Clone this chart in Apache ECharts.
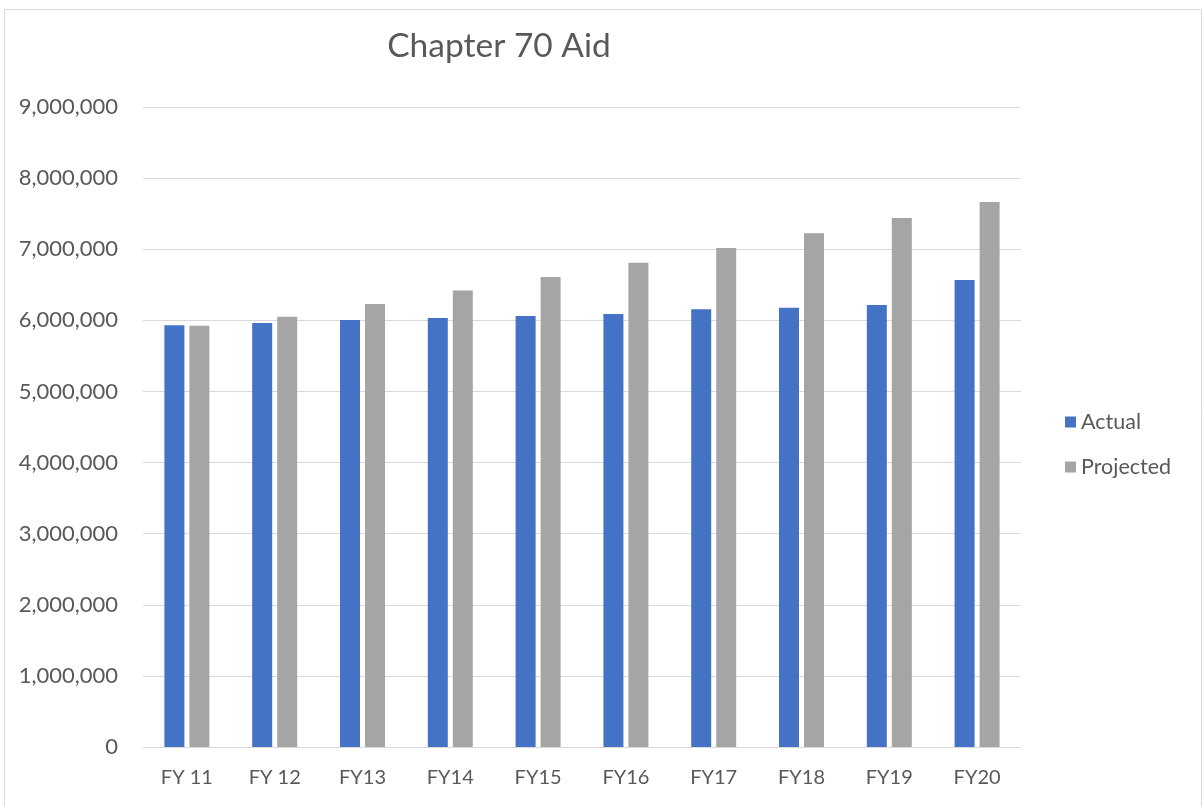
<!DOCTYPE html>
<html lang="en">
<head>
  <meta charset="UTF-8">
  <script src="https://cdn.jsdelivr.net/npm/echarts@6/dist/echarts.min.js"></script>
  <title>Chapter 70 Aid</title>
  <style>
    * { margin: 0; padding: 0; }
    html, body { width: 100%; height: 100%; background: #fff; }
    #chart { width: 1204px; height: 806px; }
  </style>
</head>
<body>
<div id="chart"></div>
<script>
  // fiscal years
  var categories = ['FY 11', 'FY 12', 'FY13', 'FY14', 'FY15', 'FY16', 'FY17', 'FY18', 'FY19', 'FY20'];
  // values
  var actual = [5930000, 5962000, 6005000, 6033000, 6060000, 6089000, 6155000, 6178000, 6216000, 6567000];
  var projected = [5925000, 6051000, 6230000, 6420000, 6610000, 6810000, 7017000, 7224000, 7439000, 7664000];

  var font = 'Lato, "Open Sans", sans-serif';
  var textColor = '#595959';

  var chart = echarts.init(document.getElementById('chart'));
  var option = {
    animation: false,
    textStyle: { fontFamily: font },
    title: {
      text: 'Chapter 70 Aid',
      left: 494,
      top: 24,
      textAlign: 'center',
      textStyle: { fontFamily: font, fontSize: 33.5, fontWeight: 'normal', color: textColor }
    },
    graphic: [{
      type: 'rect',
      shape: { x: 4.5, y: 9.5, width: 1197, height: 820 },
      style: { fill: 'none', stroke: '#d9d9d9', lineWidth: 1 },
      silent: true
    }],
    legend: {
      orient: 'vertical',
      left: 1060,
      top: 406,
      itemWidth: 11,
      itemHeight: 11,
      itemGap: 23,
      icon: 'rect',
      textStyle: { fontFamily: font, fontSize: 21.5, color: textColor },
      data: ['Actual', 'Projected']
    },
    grid: { left: 143, right: 183, top: 107, bottom: 59, containLabel: false },
    xAxis: {
      type: 'category',
      data: categories,
      axisLine: { lineStyle: { color: '#d9d9d9', width: 1 } },
      axisTick: { show: false },
      axisLabel: { color: textColor, fontSize: 20, margin: 21, fontFamily: font }
    },
    yAxis: {
      type: 'value',
      min: 0,
      max: 9000000,
      interval: 1000000,
      axisLine: { show: false },
      axisTick: { show: false },
      splitLine: { lineStyle: { color: '#d9d9d9', width: 1 } },
      axisLabel: {
        color: textColor, fontSize: 22, margin: 25, fontFamily: font,
        formatter: function (v) { return v.toLocaleString('en-US'); }
      }
    },
    series: [
      {
        name: 'Actual',
        type: 'bar',
        data: actual,
        barWidth: 20,
        barGap: '25%',
        itemStyle: { color: '#4472C4' }
      },
      {
        name: 'Projected',
        type: 'bar',
        data: projected,
        barWidth: 20,
        itemStyle: { color: '#A5A5A5' }
      }
    ]
  };
  chart.setOption(option);
</script>
</body>
</html>
